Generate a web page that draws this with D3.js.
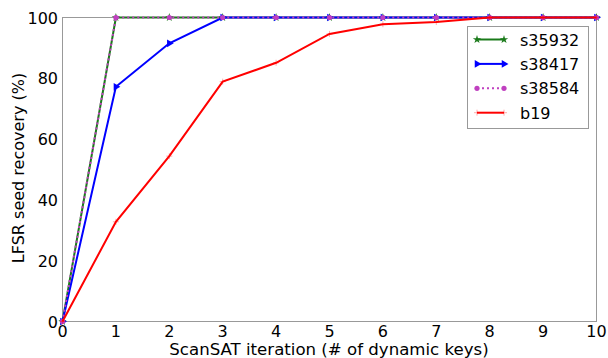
<!DOCTYPE html>
<html>
<head>
<meta charset="utf-8">
<script src="https://cdn.jsdelivr.net/npm/d3@7"></script>
<style>
  body { margin: 0; background: #fff; }
  svg { display: block; font-family: "DejaVu Sans", sans-serif; }
</style>
</head>
<body>
<svg id="chart" width="608" height="358"></svg>
<script>
// iterations (x axis)
const iterations = [0, 1, 2, 3, 4, 5, 6, 7, 8, 9, 10];

// seed recovery (%) per benchmark
const s35932 = [0, 100, 100, 100, 100, 100, 100, 100, 100, 100, 100];
const s38417 = [0, 77.2, 91.5, 100, 100, 100, 100, 100, 100, 100, 100];
const s38584 = [0, 100, 100, 100, 100, 100, 100, 100, 100, 100, 100];
const b19 = [0, 32.8, 54.4, 78.9, 85.1, 94.6, 97.8, 98.5, 100, 100, 100];

const xTicks = [0, 1, 2, 3, 4, 5, 6, 7, 8, 9, 10];
const yTicks = [0, 20, 40, 60, 80, 100];

const series = [
  { name: "s35932", values: s35932, color: "#1a7a1a", marker: "star", dash: null },
  { name: "s38417", values: s38417, color: "#0000ff", marker: "tri", dash: null },
  { name: "s38584", values: s38584, color: "#c040c0", marker: "circle", dash: "2,3" },
  { name: "b19", values: b19, color: "#ff0000", marker: "plus", dash: null }
];

const svg = d3.select("#chart");
const m = { left: 62.5, right: 596.5, top: 17.5, bottom: 321.5 };

const x = d3.scaleLinear().domain([0, 10]).range([m.left, m.right]);
const y = d3.scaleLinear().domain([0, 100]).range([m.bottom, m.top]);

// frame
svg.append("rect")
  .attr("x", m.left).attr("y", m.top)
  .attr("width", m.right - m.left).attr("height", m.bottom - m.top)
  .attr("fill", "none").attr("stroke", "#999").attr("stroke-width", 1);

// tick labels
svg.append("g").selectAll("text")
  .data(xTicks).join("text")
  .attr("x", d => x(d)).attr("y", 337)
  .attr("text-anchor", "middle")
  .style("font-size", "16px")
  .text(d => d);

svg.append("g").selectAll("text")
  .data(yTicks).join("text")
  .attr("x", 58).attr("y", d => y(d) + 6)
  .attr("text-anchor", "end")
  .style("font-size", "16px")
  .text(d => d);

// axis titles
svg.append("text")
  .attr("x", 329).attr("y", 355)
  .attr("text-anchor", "middle")
  .style("font-size", "16.6px")
  .text("ScanSAT iteration (# of dynamic keys)");

svg.append("text")
  .attr("transform", `translate(24,168) rotate(-90)`)
  .attr("text-anchor", "middle")
  .style("font-size", "16px")
  .text("LFSR seed recovery (%)");

function drawMarker(g, type, cx, cy, color) {
  if (type === "star") {
    g.append("path")
      .attr("d", d3.symbol(d3.symbolStar, 22)())
      .attr("transform", `translate(${cx},${cy})`)
      .attr("fill", color);
  } else if (type === "tri") {
    g.append("path")
      .attr("d", d3.symbol(d3.symbolTriangle, 26)())
      .attr("transform", `translate(${cx},${cy}) rotate(90)`)
      .attr("fill", color);
  } else if (type === "circle") {
    g.append("circle").attr("cx", cx).attr("cy", cy).attr("r", 2.6).attr("fill", color);
  } else {
    g.append("path")
      .attr("d", `M${cx - 3},${cy}H${cx + 3}M${cx},${cy - 3}V${cy + 3}`)
      .attr("stroke", color).attr("stroke-width", 0.8).attr("opacity", 0.4);
  }
}

const line = d3.line().x(d => x(d[0])).y(d => y(d[1]));

const plot = svg.append("g");
series.forEach(s => {
  const pts = iterations.map((it, i) => [it, s.values[i]]);
  plot.append("path")
    .attr("d", line(pts))
    .attr("fill", "none")
    .attr("stroke", s.color)
    .attr("stroke-width", 2)
    .attr("stroke-dasharray", s.dash);
  const mg = plot.append("g");
  pts.forEach(p => drawMarker(mg, s.marker, x(p[0]), y(p[1]), s.color));
});

// legend
const lg = svg.append("g");
lg.append("rect")
  .attr("x", 467.5).attr("y", 26.5).attr("width", 121).attr("height", 102)
  .attr("fill", "#fff").attr("stroke", "#999");
series.forEach((s, i) => {
  const ly = 39.5 + i * 24.4;
  lg.append("line")
    .attr("x1", 477).attr("x2", 504).attr("y1", ly).attr("y2", ly)
    .attr("stroke", s.color).attr("stroke-width", 2)
    .attr("stroke-dasharray", s.dash);
  drawMarker(lg, s.marker, 477, ly, s.color);
  drawMarker(lg, s.marker, 504, ly, s.color);
  lg.append("text")
    .attr("x", 520).attr("y", ly + 6)
    .style("font-size", "16px")
    .text(s.name);
});
</script>
</body>
</html>
